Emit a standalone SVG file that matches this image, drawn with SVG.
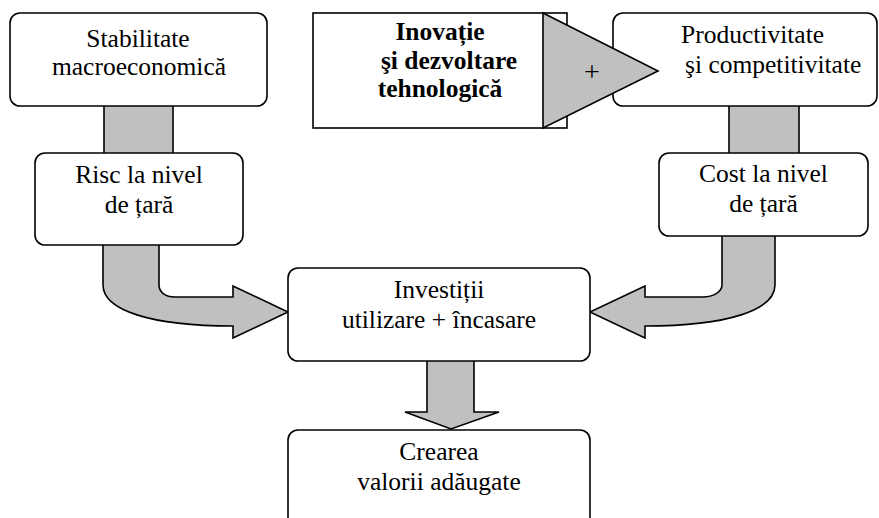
<svg xmlns="http://www.w3.org/2000/svg" width="879" height="518" viewBox="0 0 879 518" font-family="'Liberation Serif', 'Times New Roman', serif" font-size="25.5">
<style>
.box{fill:#fff;stroke:#000;stroke-width:1.6}
.conn{fill:#c0c0c0;stroke:#000;stroke-width:1.6;stroke-linejoin:miter}
.c{text-anchor:middle}
.b{font-weight:bold}
</style>
<rect width="879" height="518" fill="#fff"/>
<g id="connectors">
<rect class="conn" x="104" y="100" width="69" height="60"/>
<rect class="conn" x="729" y="100" width="70" height="60"/>
<path class="conn" d="M103 240 L103 285 C103 310 150 326 233 326 L233 338 L288 312 L233 286 L233 297 L175 297 C165 297 159 292 159 285 L159 240 Z"/>
<path class="conn" d="M775 232 L775 285 C775 310 728 326 645 326 L645 338 L590 312 L645 286 L645 297 L703 297 C713 297 722 292 722 285 L722 232 Z"/>
<path class="conn" d="M427 357 L427 412 L405 412 L451 429 L499 412 L474 412 L474 357 Z"/>
</g>
<g id="stabilitate">
<rect class="box" x="10" y="13" width="257" height="93" rx="10"/>
<text class="c" x="138" y="46.5">Stabilitate</text>
<text class="c" x="139" y="75">macroeconomică</text>
</g>
<g id="risc">
<rect class="box" x="35" y="153" width="208" height="92" rx="10"/>
<text class="c" x="139" y="183">Risc la nivel</text>
<text class="c" x="139" y="213">de țară</text>
</g>
<g id="productivitate">
<rect class="box" x="613" y="13" width="264" height="93" rx="10"/>
<text x="681" y="43">Productivitate</text>
<text x="685" y="73">şi competitivitate</text>
</g>
<g id="cost">
<rect class="box" x="659" y="153" width="209" height="83" rx="10"/>
<text class="c" x="763.5" y="182">Cost la nivel</text>
<text class="c" x="763.5" y="212">de țară</text>
</g>
<g id="inovatie">
<rect class="box" x="313" y="13" width="254" height="115"/>
<text class="c b" x="440" y="40">Inovație</text>
<text class="c b" x="449" y="69">şi dezvoltare</text>
<text class="c b" x="440" y="97">tehnologică</text>
<path class="conn" d="M543 13 L658 71 L543 128 Z"/>
<text class="c" x="592" y="81" font-size="28">+</text>
</g>
<g id="investitii">
<rect class="box" x="288" y="268" width="302" height="93" rx="10"/>
<text class="c" x="439" y="298">Investiții</text>
<text class="c" x="439" y="328">utilizare + încasare</text>
</g>
<g id="crearea">
<rect class="box" x="288" y="430" width="302" height="110" rx="10"/>
<text class="c" x="439" y="460">Crearea</text>
<text class="c" x="439" y="490">valorii adăugate</text>
</g>
</svg>
